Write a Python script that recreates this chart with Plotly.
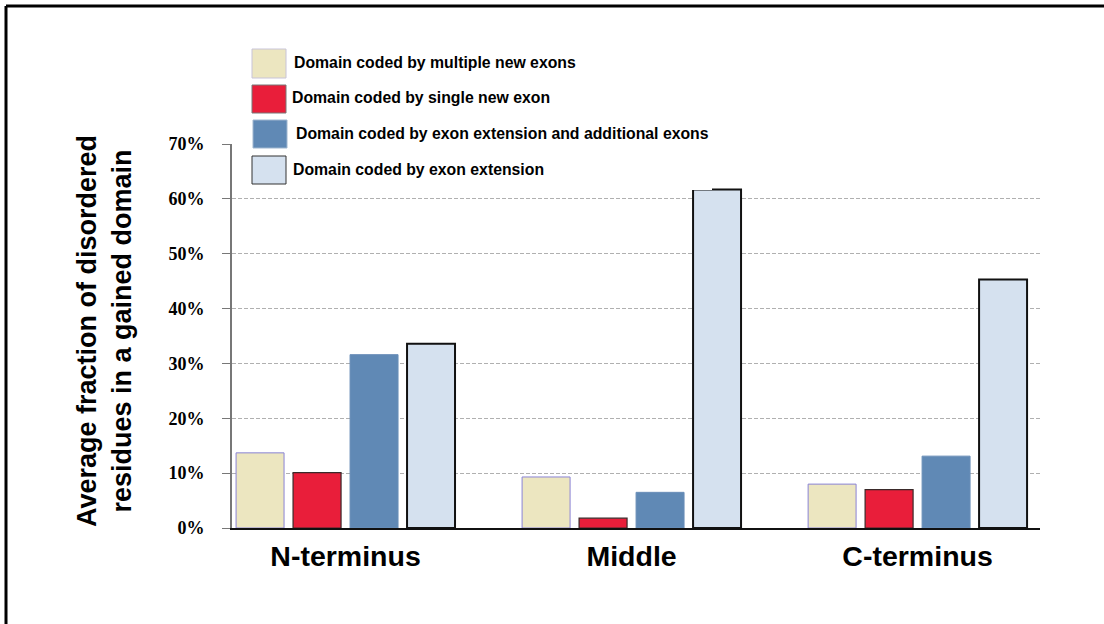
import plotly.graph_objects as go

categories = ["N-terminus", "Middle", "C-terminus"]
series_names = [
    "Domain coded by multiple new exons",
    "Domain coded by single new exon",
    "Domain coded by exon extension and additional exons",
    "Domain coded by exon extension",
]
multiple_new_exons = [0.137, 0.093, 0.080]
single_new_exon = [0.101, 0.018, 0.070]
extension_additional = [0.316, 0.065, 0.131]
exon_extension = [0.336, 0.617, 0.453]
y_ticks = [0, 0.1, 0.2, 0.3, 0.4, 0.5, 0.6, 0.7]
y_tick_labels = ["0%", "10%", "20%", "30%", "40%", "50%", "60%", "70%"]

values = [multiple_new_exons, single_new_exon, extension_additional, exon_extension]
fills = ["#ECE6C0", "#E91E3A", "#6089B5", "#D5E1EF"]
outlines = ["#8a84d6", "#3a2a2a", "#6a8fb8", "#111111"]
outline_w = [1, 1.2, 1, 2]

W, H = 1104, 624
L, R, T, B = 232, 1040, 144, 528

fig = go.Figure()
for name, vals, fc, lc, lw in zip(series_names, values, fills, outlines, outline_w):
    fig.add_trace(go.Bar(x=categories, y=vals, name=name, showlegend=False,
                         marker=dict(color=fc, line=dict(color=lc, width=lw))))

def px(x):
    return (x - L) / (R - L)

def py(y):
    return (B - y) / (B - T)

shapes = []
shapes.append(dict(type="line", xref="paper", yref="paper", x0=px(6), x1=px(1104), y0=py(6), y1=py(6),
                   line=dict(color="black", width=3)))
shapes.append(dict(type="line", xref="paper", yref="paper", x0=px(6), x1=px(6), y0=py(6), y1=py(624),
                   line=dict(color="black", width=3)))
shapes.append(dict(type="rect", xref="paper", yref="paper", x0=px(246), x1=px(712), y0=py(42), y1=py(190),
                   fillcolor="white", line=dict(width=0), layer="above"))
swatches = [(252, 49, 286, 78), (252, 85, 286, 113), (253, 120, 287, 148), (252, 156, 286, 184)]
sw_lines = ["#c8c4d8", "#777777", "#9fb6cf", "#333333"]
text_x = [292, 290, 294, 291]
annotations = []
for (x0, y0, x1, y1), fc, lc, name, tx in zip(swatches, fills, sw_lines, series_names, text_x):
    shapes.append(dict(type="rect", xref="paper", yref="paper", x0=px(x0), x1=px(x1), y0=py(y0), y1=py(y1),
                       fillcolor=fc, line=dict(color=lc, width=1), layer="above"))
    annotations.append(dict(xref="paper", yref="paper", x=px(tx), y=py((y0 + y1) / 2 - 1), text=name,
                            showarrow=False, xanchor="left", yanchor="middle",
                            font=dict(family="Liberation Sans, Arial", size=15.8, color="black", weight="bold")))

annotations.append(dict(xref="paper", yref="paper", x=px(104), y=py(331),
                        text="Average fraction of disordered<br>residues in a gained domain",
                        textangle=-90, showarrow=False, xanchor="center", yanchor="middle",
                        font=dict(family="Liberation Sans, Arial", size=27, color="black", weight="bold")))

fig.update_layout(
    width=W, height=H,
    margin=dict(l=L, r=W - R, t=T, b=H - B, pad=0),
    paper_bgcolor="white", plot_bgcolor="white",
    barmode="group", bargap=0.203, bargroupgap=0.158,
    shapes=shapes, annotations=annotations,
)
fig.update_xaxes(range=[-0.397, 2.428], showline=True, linecolor="#111111", linewidth=2,
                 ticks="", showgrid=False, zeroline=False, ticklabelstandoff=2,
                 tickfont=dict(family="Liberation Sans, Arial", size=28.5, color="black", weight="bold"))
fig.update_yaxes(range=[0, 0.7], tickvals=y_ticks, ticktext=y_tick_labels,
                 showline=True, linecolor="#777777", linewidth=2,
                 ticks="outside", ticklen=8, tickcolor="#777777", tickwidth=1,
                 showgrid=True, gridcolor="#b0b0b0", griddash="4px,2px", gridwidth=1,
                 zeroline=False, ticklabelstandoff=14,
                 tickfont=dict(family="Liberation Serif, Times New Roman", size=18, color="black", weight="bold"))

fig.write_html("out.html", config={"displayModeBar": False},
               post_script="document.body.style.margin='0';document.body.style.padding='0';")
